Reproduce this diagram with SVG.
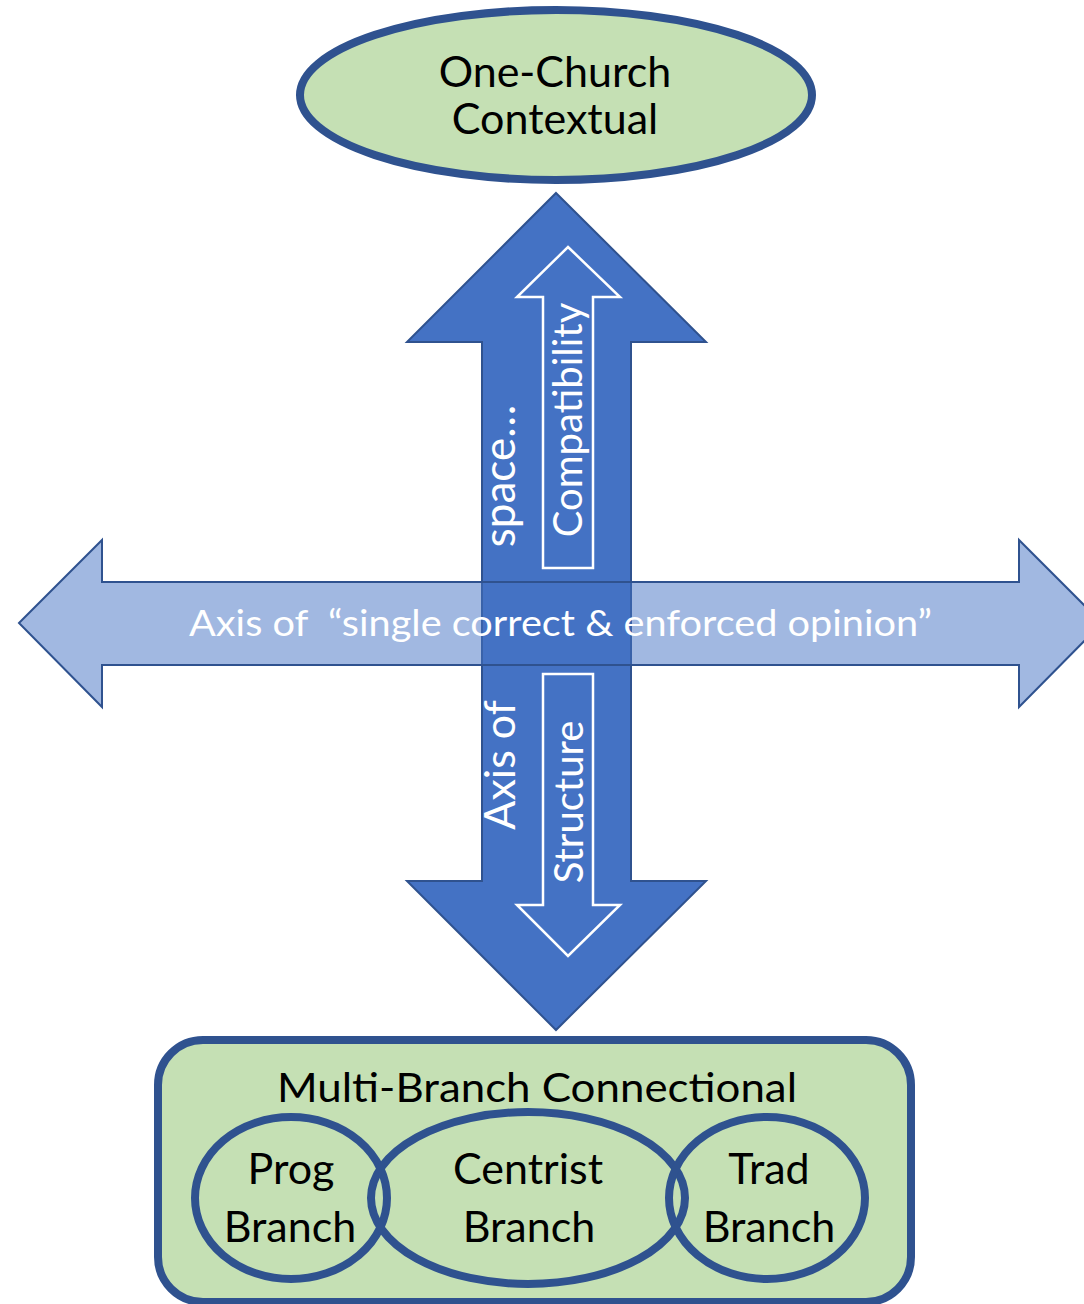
<svg xmlns="http://www.w3.org/2000/svg" width="1084" height="1304" viewBox="0 0 1084 1304">
<style>
.t{font-family:Lato,"Liberation Sans",sans-serif;}
.dk{fill:#000;}
.wt{fill:#fff;}
.node{fill:#C5E0B4;stroke:#2F528F;stroke-width:8;}
.ring{fill:none;stroke:#2F528F;stroke-width:8;}
</style>
<rect width="1084" height="1304" fill="#fff"/>
<g id="connectors">
  <path id="vertical-arrow" d="M556,193 L706,342 L631,342 L631,881 L706,881 L556,1030 L407,881 L482,881 L482,342 L407,342 Z" fill="#4472C4" stroke="#2F528F" stroke-width="2"/>
  <path id="up-arrow" d="M568,247 L620,297 L593,297 L593,568 L543,568 L543,297 L517,297 Z" fill="none" stroke="#fff" stroke-width="2.5"/>
  <path id="down-arrow" d="M543,674 L593,674 L593,905 L620,905 L568,956 L517,905 L543,905 Z" fill="none" stroke="#fff" stroke-width="2.5"/>
  <path id="horizontal-arrow" d="M19,623 L102,540 L102,582 L1019,582 L1019,540 L1102,623 L1019,707 L1019,665 L102,665 L102,707 Z" fill="#4472C4" fill-opacity="0.5" stroke="#2F528F" stroke-width="2"/>
  <text class="t wt" x="0" y="0" font-size="44" text-anchor="middle" transform="translate(515,476) rotate(-90)">space…</text>
  <text class="t wt" x="0" y="0" font-size="43" text-anchor="middle" transform="translate(515,765) rotate(-90)">Axis of</text>
  <text class="t wt" x="0" y="0" font-size="40" text-anchor="middle" transform="translate(582,420) rotate(-90)">Compatibility</text>
  <text class="t wt" x="0" y="0" font-size="40" text-anchor="middle" transform="translate(583,802) rotate(-90)">Structure</text>
  <text class="t wt" x="189" y="636" font-size="36" textLength="743" lengthAdjust="spacingAndGlyphs" xml:space="preserve">Axis of  “single correct &amp; enforced opinion”</text>
</g>
<g id="one-church">
  <ellipse class="node" cx="556" cy="95" rx="256" ry="85" stroke-width="7"/>
  <text class="t dk" x="555" y="87" font-size="43" text-anchor="middle">One-Church</text>
  <text class="t dk" x="555" y="134" font-size="43" text-anchor="middle">Contextual</text>
</g>
<g id="multi-branch">
  <rect class="node" x="158" y="1040" width="753" height="262" rx="45" ry="45"/>
  <text class="t dk" x="277" y="1102" font-size="40" textLength="520" lengthAdjust="spacingAndGlyphs">Multi-Branch Connectional</text>
</g>
<g id="prog-branch">
  <ellipse class="ring" cx="291" cy="1198" rx="96" ry="81"/>
  <text class="t dk" x="291" y="1184" font-size="43" text-anchor="middle">Prog</text>
  <text class="t dk" x="290" y="1242" font-size="43" text-anchor="middle">Branch</text>
</g>
<g id="centrist-branch">
  <ellipse class="ring" cx="528" cy="1198" rx="157" ry="86"/>
  <text class="t dk" x="528" y="1184" font-size="43" text-anchor="middle">Centrist</text>
  <text class="t dk" x="529" y="1242" font-size="43" text-anchor="middle">Branch</text>
</g>
<g id="trad-branch">
  <ellipse class="ring" cx="767" cy="1198" rx="98" ry="81"/>
  <text class="t dk" x="769" y="1184" font-size="43" text-anchor="middle">Trad</text>
  <text class="t dk" x="769" y="1242" font-size="43" text-anchor="middle">Branch</text>
</g>
</svg>
